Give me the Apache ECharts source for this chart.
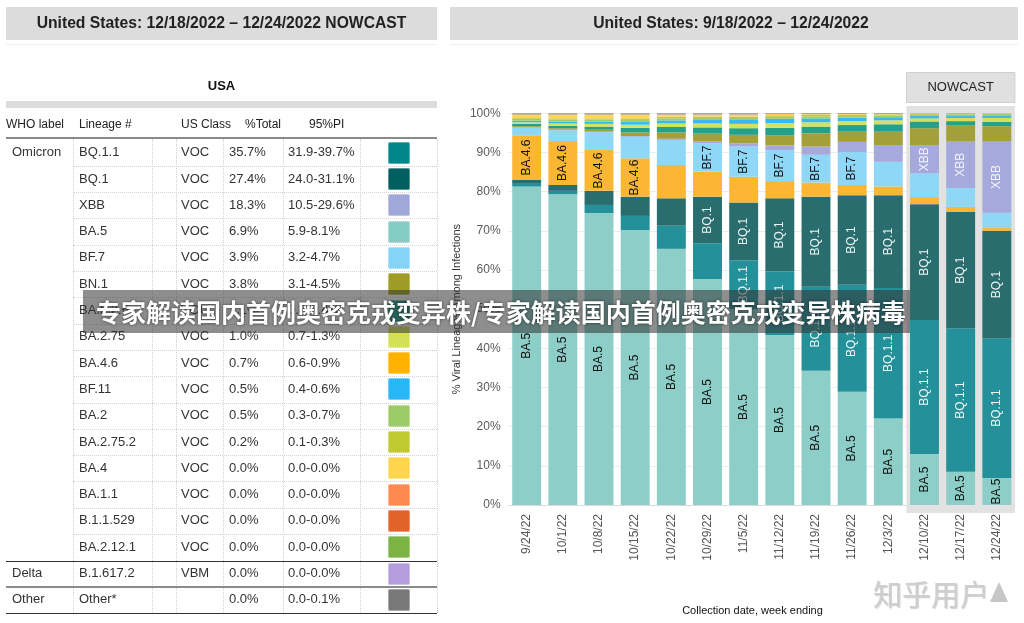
<!DOCTYPE html>
<html><head><meta charset="utf-8">
<script src="https://cdn.jsdelivr.net/npm/echarts@6/dist/echarts.min.js"></script>
<style>
html,body{margin:0;padding:0;background:#fff;width:1024px;height:623px;overflow:hidden;font-family:"Liberation Sans",Arial,sans-serif;}
#chart{position:absolute;left:0;top:0;width:1024px;height:623px;z-index:1;}
#table{position:absolute;left:0;top:0;width:1024px;height:623px;z-index:2;pointer-events:none;}
.a{position:absolute;white-space:nowrap;}
#banner{position:absolute;left:83px;top:290px;width:827px;height:43px;background:rgba(50,50,50,0.55);z-index:5;}
#banner span{position:absolute;left:13px;top:0;line-height:43px;font-family:"Noto Sans CJK SC",sans-serif;font-weight:700;font-size:25px;color:#fff;text-shadow:0 0 3px rgba(0,0,0,0.6);white-space:nowrap;letter-spacing:0px;}
#wm{position:absolute;left:873px;top:572px;z-index:5;font-family:"Noto Sans CJK SC",sans-serif;font-size:29px;color:rgba(205,205,205,0.95);text-shadow:1px 1px 1px rgba(120,120,120,0.35);white-space:nowrap;}
#wmtri{position:absolute;left:990px;top:582px;width:0;height:0;border-left:9px solid transparent;border-right:9px solid transparent;border-bottom:20px solid rgba(195,195,195,0.95);z-index:5;}
</style></head><body>
<div id="chart"></div>
<div id="table"></div>
<div id="banner"><span id="bannerText"></span></div>
<div id="wm"></div><div id="wmtri"></div>
<script>
// ---------- DATA ----------
const leftTitle = "United States: 12/18/2022 \u2013 12/24/2022 NOWCAST";
const rightTitle = "United States: 9/18/2022 \u2013 12/24/2022";
const regionLabel = "USA";
const tableHeader = ["WHO label","Lineage #","US Class","%Total","95%PI"];
const tblWho = ["Omicron","","","","","","","","","","","","","","","","Delta","Other"];
const tblLineage = ["BQ.1.1","BQ.1","XBB","BA.5","BF.7","BN.1","BA.5.2.6","BA.2.75","BA.4.6","BF.11","BA.2","BA.2.75.2","BA.4","BA.1.1","B.1.1.529","BA.2.12.1","B.1.617.2","Other*"];
const tblClass = ["VOC","VOC","VOC","VOC","VOC","VOC","VOC","VOC","VOC","VOC","VOC","VOC","VOC","VOC","VOC","VOC","VBM",""];
const tblTotal = ["35.7%","27.4%","18.3%","6.9%","3.9%","3.8%","1.1%","1.0%","0.7%","0.5%","0.5%","0.2%","0.0%","0.0%","0.0%","0.0%","0.0%","0.0%"];
const tblPI = ["31.9-39.7%","24.0-31.1%","10.5-29.6%","5.9-8.1%","3.2-4.7%","3.1-4.5%","0.8-1.4%","0.7-1.3%","0.6-0.9%","0.4-0.6%","0.3-0.7%","0.1-0.3%","0.0-0.0%","0.0-0.0%","0.0-0.0%","0.0-0.0%","0.0-0.0%","0.0-0.1%"];
const tblColors = ["#00868b","#005f61","#a0a8da","#84ccc4","#84d4f8","#9e9c26","#1f9e89","#d4e157","#ffb300","#29b6f6","#9ccc65","#c0ca33","#ffd54f","#ff8a50","#e2622a","#7cb342","#b39ddb","#787878"];

const dates = ["9/24/22","10/1/22","10/8/22","10/15/22","10/22/22","10/29/22","11/5/22","11/12/22","11/19/22","11/26/22","12/3/22","12/10/22","12/17/22","12/24/22"];
const nowcastDates = ["12/10/22","12/24/22"];
const BA5    = [81.3,79.3,74.5,70.2,65.4,57.7,50.0,43.4,34.3,28.9,22.1,13.0,8.5,6.9];
const BQ11   = [0.7,0.9,2.1,3.6,5.9,9.1,12.5,16.2,21.4,27.3,33.3,34.2,36.6,35.7];
const BQ1    = [1.0,1.5,3.6,4.9,7.0,11.9,14.7,18.7,23.0,22.9,23.7,29.6,29.7,27.4];
const BA46   = [11.4,11.2,10.4,9.8,8.5,6.4,6.6,4.4,3.6,2.6,2.2,1.8,1.3,0.7];
const BF7    = [1.9,2.8,4.6,5.5,6.4,7.2,7.7,7.9,7.1,8.4,6.3,6.1,4.8,3.9];
const XBB    = [0.1,0.1,0.1,0.2,0.3,0.5,0.8,1.2,2.1,2.6,4.3,7.2,11.9,18.3];
const BN1    = [0.3,0.4,0.5,0.9,1.6,2.0,2.2,2.5,3.4,2.6,3.4,4.3,4.2,3.8];
const BA526  = [0.6,0.6,0.8,1.2,1.4,1.6,1.7,2.0,1.7,1.7,1.9,1.7,1.0,1.1];
const BA275  = [0.4,0.6,0.7,0.8,0.9,1.0,1.1,1.2,1.1,1.0,1.0,0.8,0.8,1.0];
const BF11   = [0.4,0.5,0.6,0.7,0.8,0.9,1.0,1.1,1.0,0.9,0.8,0.6,0.5,0.5];
const BA2    = [0.5,0.5,0.5,0.5,0.5,0.5,0.5,0.5,0.5,0.4,0.4,0.3,0.4,0.5];
const BA2752 = [0.2,0.3,0.3,0.4,0.4,0.4,0.4,0.4,0.4,0.3,0.3,0.2,0.2,0.2];
const BA4    = [0.9,1.0,1.0,1.0,0.6,0.5,0.5,0.3,0.2,0.2,0.1,0.1,0.0,0.0];
const OTHER  = [0.3,0.3,0.3,0.3,0.3,0.3,0.3,0.2,0.2,0.2,0.2,0.1,0.1,0.0];
const yAxisName = "% Viral Lineages Among Infections";
const xAxisName = "Collection date, week ending";
const nowcastLabel = "NOWCAST";
const bannerText = "专家解读国内首例奥密克戎变异株/专家解读国内首例奥密克戎变异株病毒";
const watermark = "知乎用户";

// ---------- TABLE (HTML) ----------
const T = document.getElementById('table');
function box(x,y,w,h,bg,extra){const d=document.createElement('div');d.className='a';d.style.cssText=`left:${x}px;top:${y}px;width:${w}px;height:${h}px;background:${bg};${extra||''}`;T.appendChild(d);return d;}
function txt(s,x,cy,size,opts){const d=document.createElement('div');d.className='a';const lh=size*1.3;d.textContent=s;
  d.style.cssText=`top:${cy-lh/2}px;line-height:${lh}px;font-size:${size}px;color:${(opts&&opts.color)||'#333'};font-weight:${(opts&&opts.bold)?700:400};`;
  if(opts&&opts.center){d.style.left=(x-300)+'px';d.style.width='600px';d.style.textAlign='center';}else d.style.left=x+'px';
  T.appendChild(d);return d;}
// left header
box(6,44,431,1,'#eeeeee');
box(6,7,431,33,'#dcdcdc');
txt(leftTitle,221.5,23.5,15.7,{bold:true,center:true,color:'#222'});
box(450,44,568,1,'#eeeeee');
box(450,7,568,33,'#dcdcdc');
txt(rightTitle,731,23.5,15.7,{bold:true,center:true,color:'#222'});
txt(regionLabel,221.5,86,13,{bold:true,center:true,color:'#111'});
box(6,101,431,6.5,'#dcdcdc');
const hdrX=[6,79,181,245,309];
tableHeader.forEach((h,i)=>txt(h,hdrX[i],125,12,{color:'#222'}));
box(6,137,431,1.5,'#8a8a8a');
const row0=152.7,rowH=26.3;
const colX=[12,79,181,229,288];
// vertical dotted lines
[72.7,151.7,176,222.7,282.5,360,436.7].forEach(x=>box(x,138.5,0,613-138.5,'transparent','border-left:1px dotted #cfcfcf;'));
for(let i=0;i<tblLineage.length;i++){
  const cy=row0+i*rowH;
  txt(tblWho[i],colX[0],cy,13);
  txt(tblLineage[i],colX[1],cy,13);
  txt(tblClass[i],colX[2],cy,13);
  txt(tblTotal[i],colX[3],cy,13);
  txt(tblPI[i],colX[4],cy,13);
  box(388,cy-11,22,22,tblColors[i],'border-radius:2px;box-shadow:inset 0 0 0 1px rgba(255,255,255,0.35);');
  const ly=cy+rowH/2;
  if(i<15) box(72.7,ly,364,0,'transparent','border-top:1px dotted #d4d4d4;');
}
box(6,560.5,431,1.5,'#333');
box(6,586,431,1.5,'#8a8a8a');
box(6,612.5,431,1.5,'#333');

document.getElementById('bannerText').textContent=bannerText;
document.getElementById('wm').textContent=watermark;

// ---------- CHART ----------
const FONT='"Liberation Sans", Arial, sans-serif';
const defs=[
 {name:'BA.5',data:BA5,color:'#8dcfc8',lc:'#111',min:0},
 {name:'BQ.1.1',data:BQ11,color:'#24909a',lc:'#f2f7f7',min:10},
 {name:'BQ.1',data:BQ1,color:'#2a6d6f',lc:'#eef4f4',min:8},
 {name:'BA.4.6',data:BA46,color:'#fbb634',lc:'#111',min:9},
 {name:'BF.7',data:BF7,color:'#8fd7f6',lc:'#111',min:7},
 {name:'XBB',data:XBB,color:'#a5a9dc',lc:'#f4f4fb',min:7},
 {name:'BN.1',data:BN1,color:'#a3a03a',lc:'#111',min:999},
 {name:'BA.5.2.6',data:BA526,color:'#25a08b',lc:'#111',min:999},
 {name:'BA.2.75',data:BA275,color:'#d5e15e',lc:'#111',min:999},
 {name:'BF.11',data:BF11,color:'#3bb8f3',lc:'#111',min:999},
 {name:'BA.2',data:BA2,color:'#9dcc6a',lc:'#111',min:999},
 {name:'BA.2.75.2',data:BA2752,color:'#c2ca3c',lc:'#111',min:999},
 {name:'BA.4',data:BA4,color:'#fdd55b',lc:'#111',min:999},
 {name:'Other',data:OTHER,color:'#8a8a8a',lc:'#111',min:999}
];
const chart=echarts.init(document.getElementById('chart'),null,{renderer:'canvas'});
const option={
  animation:false,
  textStyle:{fontFamily:FONT},
  grid:{left:508.6,right:9.1,top:113.3,bottom:118,containLabel:false},
  xAxis:{type:'category',data:dates,
    axisLine:{show:true,lineStyle:{color:'#d8d8d8',type:'dotted'}},axisTick:{show:false},
    axisLabel:{rotate:90,color:'#555',fontSize:12,margin:9,fontFamily:FONT},
    splitLine:{show:false}},
  yAxis:{type:'value',min:0,max:100,interval:10,
    name:yAxisName,nameLocation:'middle',nameGap:46,nameRotate:90,
    nameTextStyle:{color:'#333',fontSize:11,fontFamily:FONT},
    axisLine:{show:false},axisTick:{show:false},
    axisLabel:{formatter:'{value}%',color:'#5a5a5a',fontSize:12,margin:8,fontFamily:FONT},
    splitLine:{lineStyle:{color:'#ececec',width:1}}},
  series:defs.map(d=>({
    name:d.name,type:'bar',stack:'all',data:d.data,barCategoryGap:'20%',
    itemStyle:{color:d.color},
    z:2,
    label:{show:true,position:'inside',rotate:90,color:d.lc,fontSize:12,fontFamily:FONT,
      formatter:p=>(p.value>=d.min?d.name:'')},
    emphasis:{disabled:true}
  }))
};
chart.setOption(option);
const c0=chart.convertToPixel({xAxisIndex:0},nowcastDates[0]);
const c1=chart.convertToPixel({xAxisIndex:0},nowcastDates[1]);
const step=(c1-c0)/2;
const bx0=c0-step/2,bx1=c1+step/2;
chart.setOption({graphic:[
  {type:'rect',z:1,shape:{x:bx0,y:106,width:bx1-bx0,height:407},style:{fill:'#e2e2e2'}},
  {type:'rect',z:1,shape:{x:bx0,y:72.5,width:bx1-bx0,height:30},style:{fill:'#e0e0e0',stroke:'#cfcfcf',lineWidth:1}},
  {type:'text',z:3,x:(bx0+bx1)/2,y:87.5,style:{text:nowcastLabel,fill:'#222',font:'13px '+FONT,align:'center',verticalAlign:'middle'}},
  {type:'text',z:3,x:752.5,y:611,style:{text:xAxisName,fill:'#111',font:'11px '+FONT,align:'center',verticalAlign:'middle'}}
]});
</script>
</body></html>
